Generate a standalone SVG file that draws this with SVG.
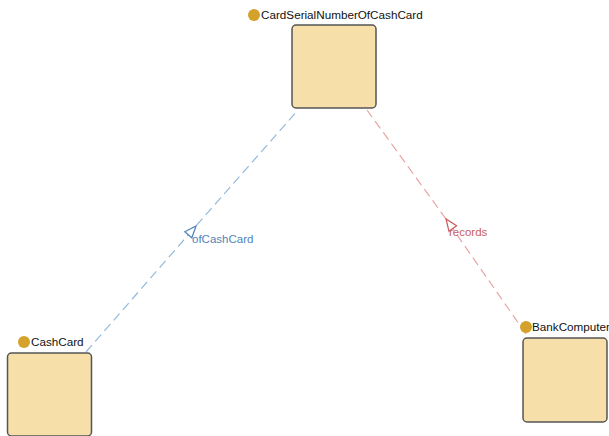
<svg xmlns="http://www.w3.org/2000/svg" width="609" height="436" viewBox="0 0 609 436">
  <style>
    .box { fill: #f6dfa9; stroke: #555555; stroke-width: 1.5; }
    .dot { fill: #d4a12b; }
    .name { font-family: "Liberation Sans", Arial, sans-serif; font-size: 11.7px; fill: #111111; }
    .edge { fill: none; stroke-width: 1.2; stroke-dasharray: 9 5; }
    .blue { stroke: #93b9da; }
    .red { stroke: #eaa3a3; }
    .elabel { font-family: "Liberation Sans", Arial, sans-serif; font-size: 11.5px; }
  </style>
  <defs>
    <marker id="triBlue" markerUnits="userSpaceOnUse" markerWidth="14" markerHeight="12" refX="11" refY="5" orient="auto" viewBox="0 0 12 10">
      <path d="M1,1 L11,5 L1,9 Z" fill="#ffffff" stroke="#4f84b9" stroke-width="1.1"/>
    </marker>
    <marker id="triRed" markerUnits="userSpaceOnUse" markerWidth="14" markerHeight="12" refX="11" refY="5" orient="auto" viewBox="0 0 12 10">
      <path d="M1,1 L11,5 L1,9 Z" fill="#ffffff" stroke="#c9605d" stroke-width="1.1"/>
    </marker>
  </defs>
  <rect width="609" height="436" fill="#ffffff"/>

  <g id="connectors">
    <g id="edge-ofCashCard">
      <path class="edge blue" d="M86,352 L196,226 L298,110"/>
      <path d="M86,352 L196,226 L298,110" fill="none" stroke="none" marker-mid="url(#triBlue)"/>
      <text class="elabel" x="192" y="243" fill="#4f84b9">ofCashCard</text>
    </g>
    <g id="edge-records">
      <path class="edge red" d="M526,334 L446,219 L367,110"/>
      <path d="M526,334 L446,219 L367,110" fill="none" stroke="none" marker-mid="url(#triRed)"/>
      <text class="elabel" x="449" y="236" fill="#c9605d">records</text>
    </g>
  </g>

  <g id="node-CardSerialNumberOfCashCard">
    <rect class="box" x="292" y="25" width="84" height="83" rx="4"/>
    <circle class="dot" cx="254" cy="15" r="6"/>
    <text class="name" x="261" y="19">CardSerialNumberOfCashCard</text>
  </g>

  <g id="node-CashCard">
    <rect class="box" x="7.5" y="353" width="84" height="83" rx="4"/>
    <circle class="dot" cx="24" cy="342" r="6"/>
    <text class="name" x="31" y="346">CashCard</text>
  </g>

  <g id="node-BankComputer">
    <rect class="box" x="523" y="338" width="84" height="84" rx="4"/>
    <circle class="dot" cx="526" cy="327" r="6"/>
    <text class="name" x="532" y="331">BankComputer</text>
  </g>
</svg>
